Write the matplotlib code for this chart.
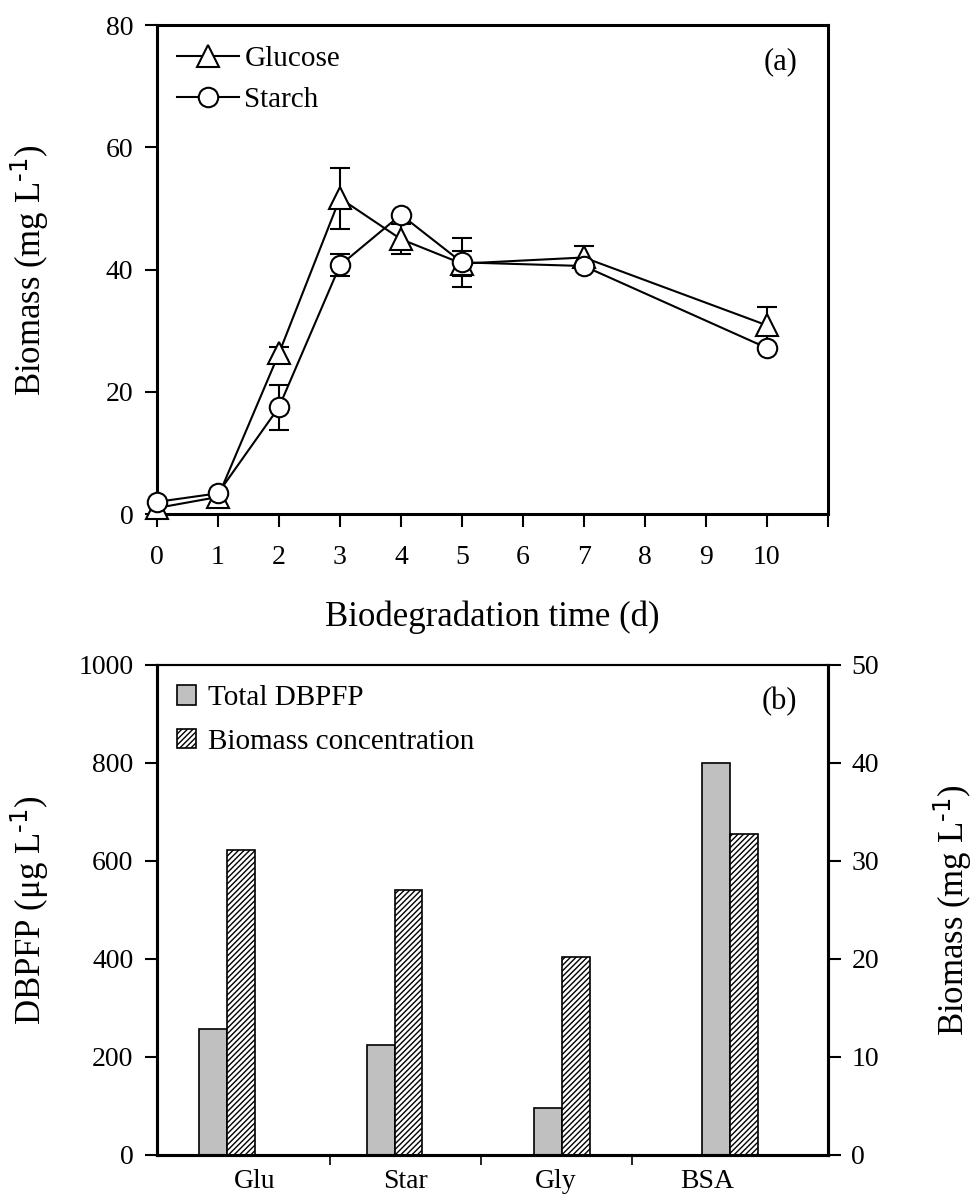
import numpy as np
import matplotlib
matplotlib.use("Agg")
import matplotlib.pyplot as plt
from matplotlib.patches import Patch

plt.rcParams['font.family'] = ['Liberation Serif', 'DejaVu Serif']
plt.rcParams['mathtext.default'] = 'regular'
plt.rcParams['axes.unicode_minus'] = False
plt.rcParams['hatch.linewidth'] = 1.0

# (a) biomass vs time
days = [0, 1, 2, 3, 4, 5, 7, 10]
glucose = [1.0, 2.8, 26.3, 51.7, 45.0, 41.0, 42.0, 30.9]
glucose_err = [0, 0, 1.0, 5.0, 2.5, 2.0, 1.8, 3.0]
starch = [2.0, 3.4, 17.5, 40.7, 49.0, 41.2, 40.6, 27.2]
starch_err = [0, 0, 3.7, 1.8, 0, 4.0, 0, 0]
xtick_labels = ['0', '1', '2', '3', '4', '5', '6', '7', '8', '9', '10', '']

# (b) DBPFP and biomass per carbon source
sources = ['Glu', 'Star', 'Gly', 'BSA']
dbpfp = [257, 224, 95, 800]
biomass = [31.1, 27.0, 20.2, 32.8]

TICK_FS = 20
LABEL_FS = 25
LEG_FS = 21
SPINE_LW = 2.2
UNIT = r'L$^{\text{-1}}$)'

fig = plt.figure(figsize=(9.75, 12.04), dpi=100)

# ---- panel (a)
ax1 = fig.add_axes([0.161, 0.573, 0.688, 0.406])


def draw_series(ax, x, y, err, marker, ms, label):
    x = np.asarray(x)
    y = np.asarray(y)
    err = np.asarray(err)
    has_err = err > 0
    ax.errorbar(x[has_err], y[has_err], yerr=err[has_err], fmt='none',
                ecolor='black', elinewidth=1.5, capsize=7, capthick=1.5,
                zorder=2, clip_on=False)
    ax.plot(x, y, '-', color='black', lw=1.5, marker=marker, ms=ms,
            mfc='white', mec='black', mew=1.5, label=label, zorder=3,
            clip_on=False)


draw_series(ax1, days, glucose, glucose_err, '^', 16, 'Glucose')
draw_series(ax1, days, starch, starch_err, 'o', 14, 'Starch')

ax1.set_xlim(0, 11)
ax1.set_ylim(0, 80)
ax1.set_xticks(range(12))
ax1.set_xticklabels(xtick_labels)
ax1.set_yticks([0, 20, 40, 60, 80])
ax1.tick_params(direction='out', length=9, width=1.5, labelsize=TICK_FS, pad=8)
ax1.tick_params(axis='x', pad=13)
for s in ax1.spines.values():
    s.set_linewidth(SPINE_LW)
ax1.set_xlabel('Biodegradation time (d)', fontsize=LABEL_FS, labelpad=22)
ax1.set_ylabel('Biomass (mg ' + UNIT, fontsize=LABEL_FS)
ax1.yaxis.set_label_coords(-0.158, 0.5)
ax1.legend(loc='upper left', frameon=False, fontsize=LEG_FS, handlelength=2.1,
           handletextpad=0.2, labelspacing=0.5, borderaxespad=0.3)
ax1.text(0.955, 0.925, '(a)', transform=ax1.transAxes, ha='right', va='center',
         fontsize=22)

# ---- panel (b)
ax2 = fig.add_axes([0.161, 0.0407, 0.688, 0.407])
ax3 = ax2.twinx()

w = 1 / 6
centers = np.arange(len(sources)) + 0.5
ax2.bar(centers - w, dbpfp, width=w, color='#c0c0c0', edgecolor='black',
        linewidth=1.2, zorder=2)
ax3.bar(centers, biomass, width=w, color='white', edgecolor='black',
        hatch='//////', linewidth=1.2, zorder=2)

ax2.set_xlim(0, len(sources))
ax2.set_ylim(0, 1000)
ax3.set_ylim(0, 50)
ax2.set_yticks(range(0, 1001, 200))
ax3.set_yticks(range(0, 51, 10))

label_pos = 0.58 + 0.9 * np.arange(len(sources))
ax2.set_xticks((label_pos[:-1] + label_pos[1:]) / 2)
ax2.set_xticklabels([])
ax2.set_xticks(label_pos, minor=True)
ax2.set_xticklabels(sources, minor=True)
ax2.tick_params(axis='x', which='major', direction='out', length=7, width=1.2)
ax2.tick_params(axis='x', which='minor', length=0, labelsize=TICK_FS, pad=10)
ax2.tick_params(axis='y', direction='out', length=9, width=1.5,
                labelsize=TICK_FS, pad=8)
ax3.tick_params(axis='y', direction='out', length=9, width=1.5,
                labelsize=TICK_FS, pad=8)
for a in (ax2, ax3):
    for name, s in a.spines.items():
        s.set_linewidth(1.5 if name == 'top' else SPINE_LW)

ax2.set_ylabel('DBPFP (μg ' + UNIT, fontsize=LABEL_FS)
ax2.yaxis.set_label_coords(-0.158, 0.5)
ax3.set_ylabel('Biomass (mg ' + UNIT, fontsize=LABEL_FS, rotation=90)
ax3.yaxis.set_label_coords(1.155, 0.5)

handles = [Patch(facecolor='#c0c0c0', edgecolor='black', linewidth=1.2),
           Patch(facecolor='white', edgecolor='black', hatch='//////',
                 linewidth=1.2)]
ax2.legend(handles, ['Total DBPFP', 'Biomass concentration'], loc='upper left',
           frameon=False, fontsize=LEG_FS, handlelength=0.65, handleheight=0.65,
           handletextpad=0.4, labelspacing=0.6, borderaxespad=0.3)
ax2.text(0.955, 0.925, '(b)', transform=ax2.transAxes, ha='right',
         va='center', fontsize=22)

fig.savefig('out.png', dpi=100)
plt.close(fig)
